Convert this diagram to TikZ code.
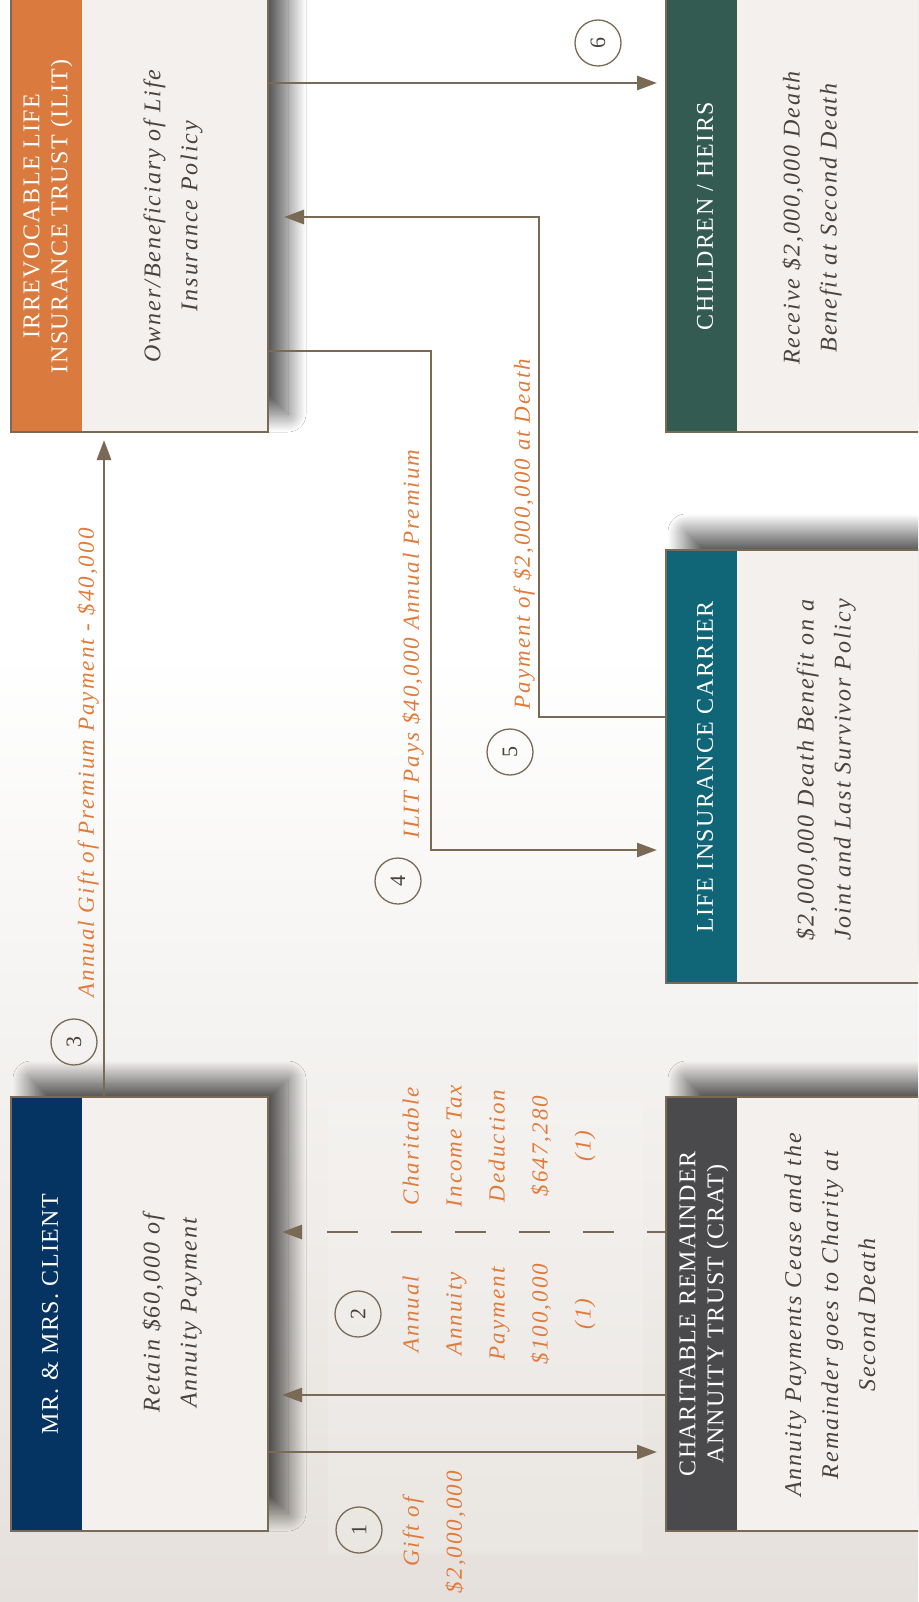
\documentclass[tikz,border=0pt]{standalone}
\usepackage{fontspec}
\setmainfont{Liberation Serif}
\newfontfamily\hdrfont[LetterSpace=6]{Liberation Serif}
\newfontfamily\bodyfont[LetterSpace=8]{Liberation Serif}
\newfontfamily\lblfont[LetterSpace=9]{Liberation Serif}
\usetikzlibrary{arrows.meta,shadows.blur}
\definecolor{ilitc}{HTML}{DA7A3E}
\definecolor{navyc}{HTML}{053463}
\definecolor{greenc}{HTML}{335B51}
\definecolor{tealc}{HTML}{106577}
\definecolor{cratc}{HTML}{4A4A4D}
\definecolor{bodyc}{HTML}{F3F0EE}
\definecolor{linec}{HTML}{7A6A55}
\definecolor{txtc}{HTML}{4A423D}
\definecolor{lblc}{HTML}{E07B3C}
\definecolor{bgbot}{HTML}{E5E0DB}
\begin{document}
\begin{tikzpicture}[x=1pt,y=-1pt,
  card/.style={draw=linec, line width=2pt, fill=bodyc, rectangle, inner sep=0pt, outer sep=0pt, anchor=north west,
    blur shadow={shadow xshift=20pt, shadow yshift=18pt, shadow blur radius=18pt, shadow blur steps=40, shadow opacity=65}},
  leftcard/.style={card, minimum width=257pt, minimum height=434pt},
  rightcard/.style={card, minimum width=270pt, minimum height=434pt},
  hdr/.style={text=white, rotate=90, align=center, inner sep=0pt, font=\hdrfont\fontsize{24}{28}\selectfont},
  body/.style={text=txtc, rotate=90, align=center, inner sep=0pt, font=\bodyfont\itshape\fontsize{24}{37}\selectfont},
  lbl/.style={text=lblc, rotate=90, align=center, inner sep=0pt, font=\lblfont\itshape\fontsize{23}{43}\selectfont},
  num/.style={circle, draw=linec, line width=1.3pt, minimum size=46pt, inner sep=0pt, text=txtc, rotate=90, font=\fontsize{22}{22}\selectfont},
  flow/.style={draw=linec, line width=2.8pt, -{Triangle[length=20pt,width=14pt]}},
]
\useasboundingbox (0,0) rectangle (918,1602);
\clip (0,0) rectangle (918,1602);
% background
\fill[white] (0,0) rectangle (918,1602);
\shade[top color=white, bottom color=bgbot] (0,650) rectangle (918,1602);
\fill[white, opacity=0.15] (328,1100) rectangle (643,1553);

% cards
\node[leftcard] (ilit) at (11,-2) {};
\node[leftcard] (mr) at (11,1097) {};
\node[rightcard] (children) at (666,-2) {};
\node[rightcard, minimum height=433pt] (carrier) at (666,550) {};
\node[rightcard] (crat) at (666,1097) {};

% header bands
\fill[ilitc] ([xshift=1pt,yshift=-1pt]ilit.north west) rectangle ([xshift=71pt,yshift=1pt]ilit.south west);
\fill[navyc] ([xshift=1pt,yshift=-1pt]mr.north west) rectangle ([xshift=71pt,yshift=1pt]mr.south west);
\fill[greenc] ([xshift=1pt,yshift=-1pt]children.north west) rectangle ([xshift=71pt,yshift=1pt]children.south west);
\fill[tealc] ([xshift=1pt,yshift=-1pt]carrier.north west) rectangle ([xshift=71pt,yshift=1pt]carrier.south west);
\fill[cratc] ([xshift=1pt,yshift=-1pt]crat.north west) rectangle ([xshift=71pt,yshift=1pt]crat.south west);

% header texts
\node[hdr] (ilith) at (48,216) {IRREVOCABLE LIFE\\INSURANCE TRUST (ILIT)};
\node[hdr] (mrh) at (50,1314) {MR. \& MRS. CLIENT};
\node[hdr] (childrenh) at (705,216) {CHILDREN / HEIRS};
\node[hdr] (carrierh) at (705,767) {LIFE INSURANCE CARRIER};
\node[hdr] (crath) at (704,1314) {CHARITABLE REMAINDER\\ANNUITY TRUST (CRAT)};

% body texts
\node[body] (ilitb) at (173,216) {Owner/Beneficiary of Life\\Insurance Policy};
\node[body] (mrb) at (172,1313) {Retain \$60,000 of\\Annuity Payment};
\node[body] (childrenb) at (812,218) {Receive \$2,000,000 Death\\Benefit at Second Death};
\node[body] (carrierb) at (826,770) {\$2,000,000 Death Benefit on a\\Joint and Last Survivor Policy};
\node[body] (cratb) at (830,1315) {Annuity Payments Cease and the\\Remainder goes to Charity at\\Second Death};

% connectors
\draw[flow, shorten >=9pt] (mr.east |- 0,1452) -- (crat.west |- 0,1452);
\draw[flow, shorten >=14pt] (crat.west |- 0,1395) -- (mr.east |- 0,1395);
\draw[flow, shorten >=14pt, dash pattern=on 31pt off 33pt, dash phase=12pt] (crat.west |- 0,1232) -- (mr.east |- 0,1232);
\draw[flow, shorten >=8pt] (mr.north -| 104,0) -- (ilit.south -| 104,0);
\draw[flow, shorten >=9pt] (ilit.east |- 0,351) -| (431,850) -- (carrier.west |- 0,850);
\draw[flow, shorten >=16pt] (carrier.west |- 0,717) -| (539,217) -- (ilit.east |- 0,217);
\draw[flow, shorten >=9pt] (ilit.east |- 0,83) -- (children.west |- 0,83);

% step numbers
\node[num] (n1) at (359,1530) {1};
\node[num] (n2) at (358,1314) {2};
\node[num] (n3) at (74,1042) {3};
\node[num] (n4) at (398,881) {4};
\node[num] (n5) at (510,752) {5};
\node[num] (n6) at (598,43) {6};

% labels
\node[lbl] (l1) at (434,1532) {Gift of\\\$2,000,000};
\node[lbl] (l2a) at (499,1314) {Annual\\Annuity\\Payment\\\$100,000\\(1)};
\node[lbl] (l2b) at (499,1146) {Charitable\\Income Tax\\Deduction\\\$647,280\\(1)};
\node[lbl] (l3) at (88,763) {Annual Gift of Premium Payment - \$40,000};
\node[lbl] (l4) at (413,644) {ILIT Pays \$40,000 Annual Premium};
\node[lbl] (l5) at (524,534) {Payment of \$2,000,000 at Death};
\end{tikzpicture}
\end{document}
